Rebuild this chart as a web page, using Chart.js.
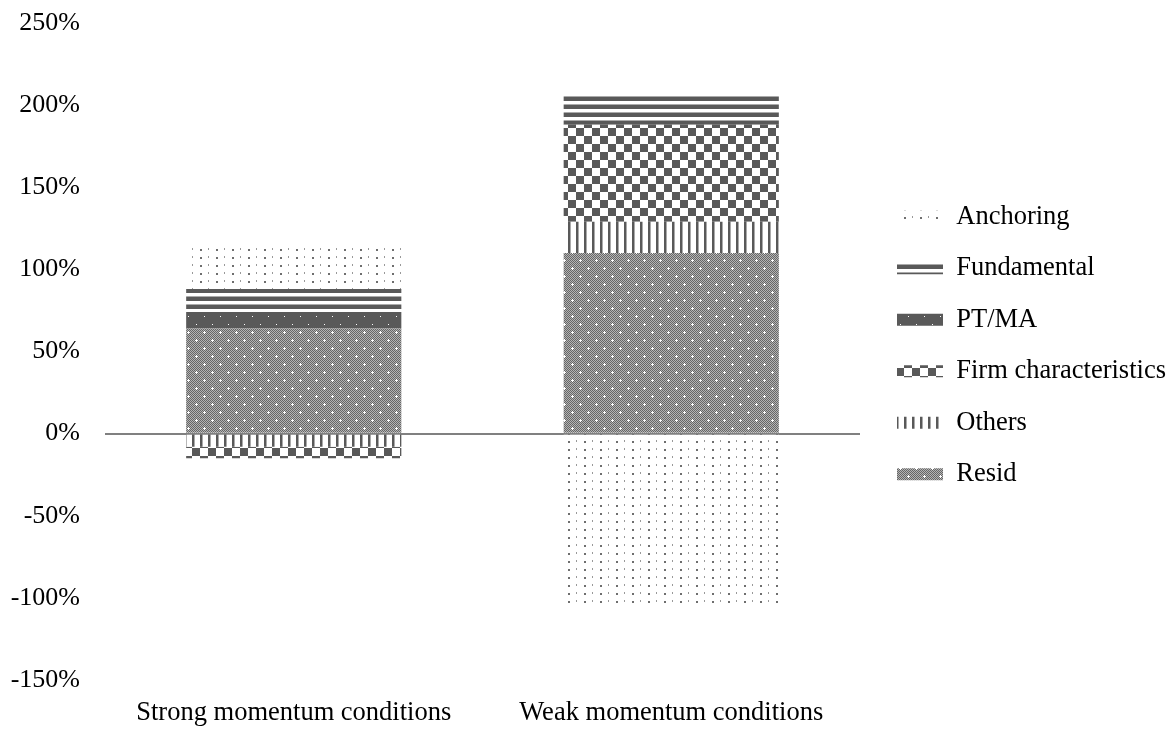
<!DOCTYPE html>
<html>
<head>
<meta charset="utf-8">
<script src="https://cdn.jsdelivr.net/npm/chart.js@4.4.1/dist/chart.umd.min.js"></script>
<style>
    html, body { margin: 0; padding: 0; background: #fff; }
    #wrap { width: 1173px; height: 729px; }
</style>
</head>
<body>
<div id="wrap"><canvas id="chart"></canvas></div>
<script>
// Categories and stacked contributions (in %)
var categories = ['Strong momentum conditions', 'Weak momentum conditions'];
var resid = [64, 110];
var others = [-8, 19];
var firmChar = [-7, 59];
var ptma = [10, 0];
var fundamental = [14, 18];
var anchoring = [27, -105];

var yTicks = [-150, -100, -50, 0, 50, 100, 150, 200, 250];

var DARK = '#595959';

// Build a small tile and turn it into a canvas pattern
function makePattern(w, h, drawFn) {
    var c = document.createElement('canvas');
    c.width = w;
    c.height = h;
    var g = c.getContext('2d');
    g.fillStyle = '#fff';
    g.fillRect(0, 0, w, h);
    drawFn(g);
    return g.createPattern(c, 'repeat');
}

var ctxMain = document.getElementById('chart').getContext('2d');

// sparse dots
var patAnchoring = makePattern(16, 8, function(g) {
    g.fillStyle = '#999';
    g.fillRect(0, 0, 1, 2);
    g.fillStyle = '#6e6e6e';
    g.fillRect(8, 1, 2, 2);
});

// horizontal bands
var patFundamental = makePattern(1, 8, function(g) {
    g.fillStyle = '#aaa';
    g.fillRect(0, 0, 1, 1);
    g.fillStyle = DARK;
    g.fillRect(0, 1, 1, 4);
});

// dark fill with small white dots
var patPtma = makePattern(16, 16, function(g) {
    g.fillStyle = DARK;
    g.fillRect(0, 0, 16, 16);
    g.fillStyle = '#fff';
    g.fillRect(4, 4, 1, 1);
    g.fillRect(12, 12, 1, 1);
});

// checkerboard
var patFirm = makePattern(16, 16, function(g) {
    g.fillStyle = DARK;
    g.fillRect(0, 0, 8, 8);
    g.fillRect(8, 8, 8, 8);
});

// vertical stripes
var patOthers = makePattern(8, 1, function(g) {
    g.fillStyle = DARK;
    g.fillRect(0, 0, 2, 1);
    g.fillStyle = '#aaa';
    g.fillRect(2, 0, 1, 1);
});

// fine grey dither with white crosses
var patResid = makePattern(16, 16, function(g) {
    for (var x = 0; x < 16; x++) {
        for (var y = 0; y < 16; y++) {
            g.fillStyle = (x + y) % 2 === 0 ? '#666' : '#b4b4b4';
            g.fillRect(x, y, 1, 1);
        }
    }
    g.fillStyle = '#fff';
    [[4, 4], [12, 12]].forEach(function(p) {
        g.fillRect(p[0], p[1], 1, 1);
        g.fillRect(p[0] - 1, p[1], 1, 1);
        g.fillRect(p[0] + 1, p[1], 1, 1);
        g.fillRect(p[0], p[1] - 1, 1, 1);
        g.fillRect(p[0], p[1] + 1, 1, 1);
    });
});

var SERIF = "'Liberation Serif', 'Times New Roman', serif";
var Y_FONT = { family: SERIF, size: 26 };
var X_FONT = { family: SERIF, size: 26.5 };
var LEGEND_FONT = { family: SERIF, size: 26.5 };

// nudge the legend so the plot keeps its gap on the right
var LEGEND_SHIFT_X = 12;
var LEGEND_SHIFT_Y = -6;
var legendShift = {
    id: 'legendShift',
    afterLayout: function(chart) {
        if (chart.legend) {
            chart.legend.left += LEGEND_SHIFT_X;
            chart.legend.right = chart.width; // legend clips to its box, give the text room
            chart.legend.top += LEGEND_SHIFT_Y;
            chart.legend.bottom += LEGEND_SHIFT_Y;
        }
    }
};

new Chart(ctxMain, {
    type: 'bar',
    data: {
        labels: categories,
        datasets: [
            { label: 'Resid', data: resid, backgroundColor: patResid },
            { label: 'Others', data: others, backgroundColor: patOthers },
            { label: 'Firm characteristics', data: firmChar, backgroundColor: patFirm },
            { label: 'PT/MA', data: ptma, backgroundColor: patPtma },
            { label: 'Fundamental', data: fundamental, backgroundColor: patFundamental },
            { label: 'Anchoring', data: anchoring, backgroundColor: patAnchoring }
        ]
    },
    plugins: [legendShift],
    options: {
        responsive: true,
        maintainAspectRatio: false,
        animation: false,
        datasets: {
            bar: { barPercentage: 0.57, categoryPercentage: 1.0, borderWidth: 0 }
        },
        layout: { padding: { top: 0, left: 11, right: 30, bottom: 0 } },
        plugins: {
            legend: {
                position: 'right',
                fullSize: false,
                reverse: true,
                labels: {
                    boxWidth: 46,
                    boxHeight: 12,
                    padding: 25,
                    color: '#000',
                    font: LEGEND_FONT
                }
            },
            tooltip: { enabled: false }
        },
        scales: {
            x: {
                stacked: true,
                grid: { display: false },
                border: { display: false },
                ticks: { color: '#000', font: X_FONT, padding: 9 },
                afterFit: function(axis) {
                    axis.height = 49;
                }
            },
            y: {
                stacked: true,
                min: yTicks[0],
                max: yTicks[yTicks.length - 1],
                z: 1,
                border: { display: false },
                grid: {
                    drawTicks: false,
                    lineWidth: 2,
                    color: function(c) {
                        return c.tick && c.tick.value === 0 ? '#808080' : 'rgba(0,0,0,0)';
                    }
                },
                afterBuildTicks: function(axis) {
                    axis.ticks = yTicks.map(function(v) { return { value: v }; });
                },
                afterFit: function(axis) {
                    // label width + one padding, top label tight to the edge
                    axis.width = 94;
                    axis.paddingTop = 23;
                    axis.paddingBottom = 16;
                },
                ticks: {
                    color: '#000',
                    font: Y_FONT,
                    padding: 25,
                    callback: function(v) { return v + '%'; }
                }
            }
        }
    }
});
</script>
</body>
</html>
